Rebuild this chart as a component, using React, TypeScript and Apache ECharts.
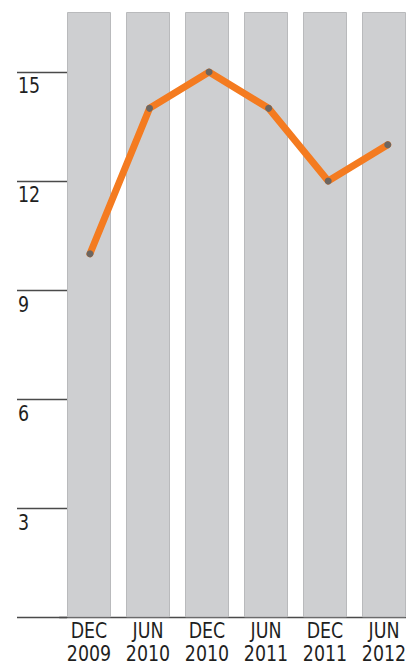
import React, { useEffect, useRef } from "react";
import * as echarts from "echarts";

// Half-year periods and the plotted values
const periods = ["DEC\n2009", "JUN\n2010", "DEC\n2010", "JUN\n2011", "DEC\n2011", "JUN\n2012"];
const values = [10, 14, 15, 14, 12, 13];
// Height of the grey background columns
const columnTop = [16.65, 16.65, 16.65, 16.65, 16.65, 16.65];
// Y axis marks
const tickValues = [0, 3, 6, 9, 12, 15];
const labelValues = [3, 6, 9, 12, 15];
const yMax = 16.65;

const FONT_FAMILY = "'DejaVu Sans Condensed', 'Liberation Sans', sans-serif";
const FONT_SIZE = 22;
const NARROW = 0.88; // horizontal squeeze for the condensed look
const TICK_LEN = 50;

export default function App() {
  const ref = useRef<HTMLDivElement>(null);

  useEffect(() => {
    if (!ref.current) return;
    const chart = echarts.init(ref.current, undefined, { renderer: "svg" });
    chart.setOption({
      animation: false,
      backgroundColor: "#ffffff",
      grid: [
        { left: 59.5, width: 354, top: 12, bottom: 47.7 },
        { left: 60.2, width: 357.3, top: 12, bottom: 47.7 },
      ],
      xAxis: [
        {
          type: "category",
          gridIndex: 0,
          data: periods,
          axisLine: { show: true, lineStyle: { color: "#4a4a4a", width: 1.3 } },
          axisTick: { show: false },
          axisLabel: { show: false },
        },
        { type: "category", gridIndex: 1, data: periods, show: false },
      ],
      yAxis: [
        {
          type: "value",
          gridIndex: 0,
          min: 0,
          max: yMax,
          interval: 3,
          offset: -7.5,
          axisLine: { show: false },
          splitLine: { show: false },
          axisTick: {
            show: true,
            length: TICK_LEN,
            customValues: tickValues,
            lineStyle: { color: "#4a4a4a", width: 1.3 },
          },
          axisLabel: { show: false },
        },
        {
          type: "value",
          gridIndex: 1,
          min: 0,
          max: yMax,
          show: false,
          splitLine: { show: false },
        },
      ],
      series: [
        {
          type: "bar",
          xAxisIndex: 0,
          yAxisIndex: 0,
          data: columnTop,
          barWidth: 44,
          itemStyle: { color: "#cecfd1", borderColor: "#b9babc", borderWidth: 1 },
          silent: true,
          z: 1,
        },
        {
          type: "line",
          xAxisIndex: 1,
          yAxisIndex: 1,
          data: values,
          lineStyle: { color: "#f47b20", width: 7, cap: "round", join: "round" },
          symbol: "circle",
          symbolSize: 7,
          itemStyle: { color: "#6c6661", borderWidth: 0 },
          z: 3,
        },
      ],
    });

    // Axis labels in a squeezed condensed face, placed from the axes' own scales
    const baseY = chart.convertToPixel({ yAxisIndex: 0 }, 0) as number;
    const gridLeft = (chart.convertToPixel({ xAxisIndex: 0 }, 0) as number) - 29.5;
    const tickStart = gridLeft + 7.5 - TICK_LEN;
    const textStyle = {
      fill: "#1f1f1f",
      fontFamily: FONT_FAMILY,
      fontSize: FONT_SIZE,
      lineHeight: 18,
    };
    const xLabels: any[] = [];
    periods.forEach((p, i) => {
      const cx = chart.convertToPixel({ xAxisIndex: 0 }, i) as number;
      p.split("\n").forEach((line, k) => {
        xLabels.push({
          type: "text",
          x: cx,
          y: baseY + 13 + k * 23,
          scaleX: NARROW,
          silent: true,
          style: { ...textStyle, text: line, align: "center", verticalAlign: "middle" },
        });
      });
    });
    const yLabels = labelValues.map((v) => ({
      type: "text",
      x: tickStart + 1,
      y: (chart.convertToPixel({ yAxisIndex: 0 }, v) as number) + 14,
      scaleX: NARROW,
      silent: true,
      style: { ...textStyle, text: String(v), align: "left", verticalAlign: "middle" },
    }));
    chart.setOption({ graphic: [...xLabels, ...yLabels] });

    return () => chart.dispose();
  }, []);

  return (
    <div
      style={{
        position: "fixed",
        left: 0,
        top: 0,
        width: 406,
        height: 665,
        overflow: "hidden",
        background: "#ffffff",
      }}
    >
      <div ref={ref} style={{ width: 430, height: 665 }} />
    </div>
  );
}
